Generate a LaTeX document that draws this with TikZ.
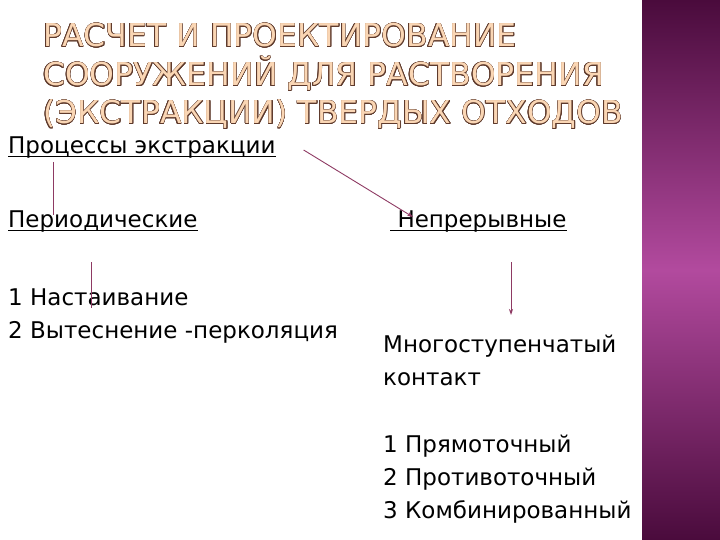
\documentclass[tikz,border=0pt]{standalone}
\usepackage{fontspec}
\setmainfont{DejaVu Sans}
\newfontfamily\headfont{DejaVu Sans}
\usepackage{contour}
\contourlength{0.45pt}
\usetikzlibrary{positioning,arrows.meta}
\definecolor{barTop}{HTML}{4A0B3C}
\definecolor{barMid}{HTML}{B24A9E}
\definecolor{arrowLine}{HTML}{8E3A63}
\definecolor{titleFill}{HTML}{FAD6B4}
\definecolor{titleEdge}{HTML}{5E3A2C}
\tikzset{
  body/.style={anchor=base west, inner sep=0pt, font=\fontsize{23}{33}\selectfont},
  heading/.style={anchor=base west, inner sep=0pt, font=\headfont\fontsize{31.5}{38}\selectfont},
  conn/.style={draw=arrowLine, line width=0.9pt},
  connhead/.style={conn, -{Stealth[length=6pt,width=4pt]}},
  uline/.style={line width=1pt}
}
\newcommand{\headline}[1]{\contour{titleEdge}{\textcolor{titleFill}{#1}}}
\begin{document}
\begin{tikzpicture}[x=1pt,y=-1pt]
\useasboundingbox (0,0) rectangle (720,540);
% side bar
\shade[top color=barTop, bottom color=barTop, middle color=barMid] (642,0) rectangle (720,540);

% title
\node[heading] (head1) at (43,47) {\headline{РАСЧЕТ И ПРОЕКТИРОВАНИЕ}};
\node[heading] (head2) at (43,86) {\headline{СООРУЖЕНИЙ ДЛЯ РАСТВОРЕНИЯ}};
\node[heading] (head3) at (43,124) {\headline{(ЭКСТРАКЦИИ) ТВЕРДЫХ ОТХОДОВ}};

% left column
\node[body] (proc) at (8,154) {Процессы экстракции};
\node[body] (period) at (8,228) {Периодические};
\node[body] (nast) at (8,305) {1 Настаивание};
\node[body] (vyt) at (8,338) {2 Вытеснение -перколяция};

% right column
\node[body] (contin) at (390,228) {~Непрерывные};
\node[body] (multi) at (383,352) {Многоступенчатый};
\node[body] (kont) at (383,385) {контакт};
\node[body] (kind1) at (383,452) {1 Прямоточный};
\node[body] (kind2) at (383,485) {2 Противоточный};
\node[body] (kind3) at (383,518) {3 Комбинированный};

% underlines
\foreach \n in {proc, period, contin}{
  \draw[uline] ([yshift=-3pt]\n.base west) -- ([yshift=-3pt]\n.base east);
}

% connectors
\draw[conn] ([xshift=45pt,yshift=-8pt]proc.base west) -- ([xshift=45pt,yshift=13pt]period.base west);
\draw[conn] ([xshift=83pt,yshift=43pt]nast.base west) -- ([xshift=83pt,yshift=-3pt]nast.base west);
\draw[connhead] ([xshift=28pt,yshift=4pt]proc.base east) -- ([xshift=23pt,yshift=11pt]contin.base west);
\draw[connhead] ([xshift=128pt,yshift=90pt]multi.base west) -- ([xshift=128pt,yshift=37pt]multi.base west);
\end{tikzpicture}
\end{document}
